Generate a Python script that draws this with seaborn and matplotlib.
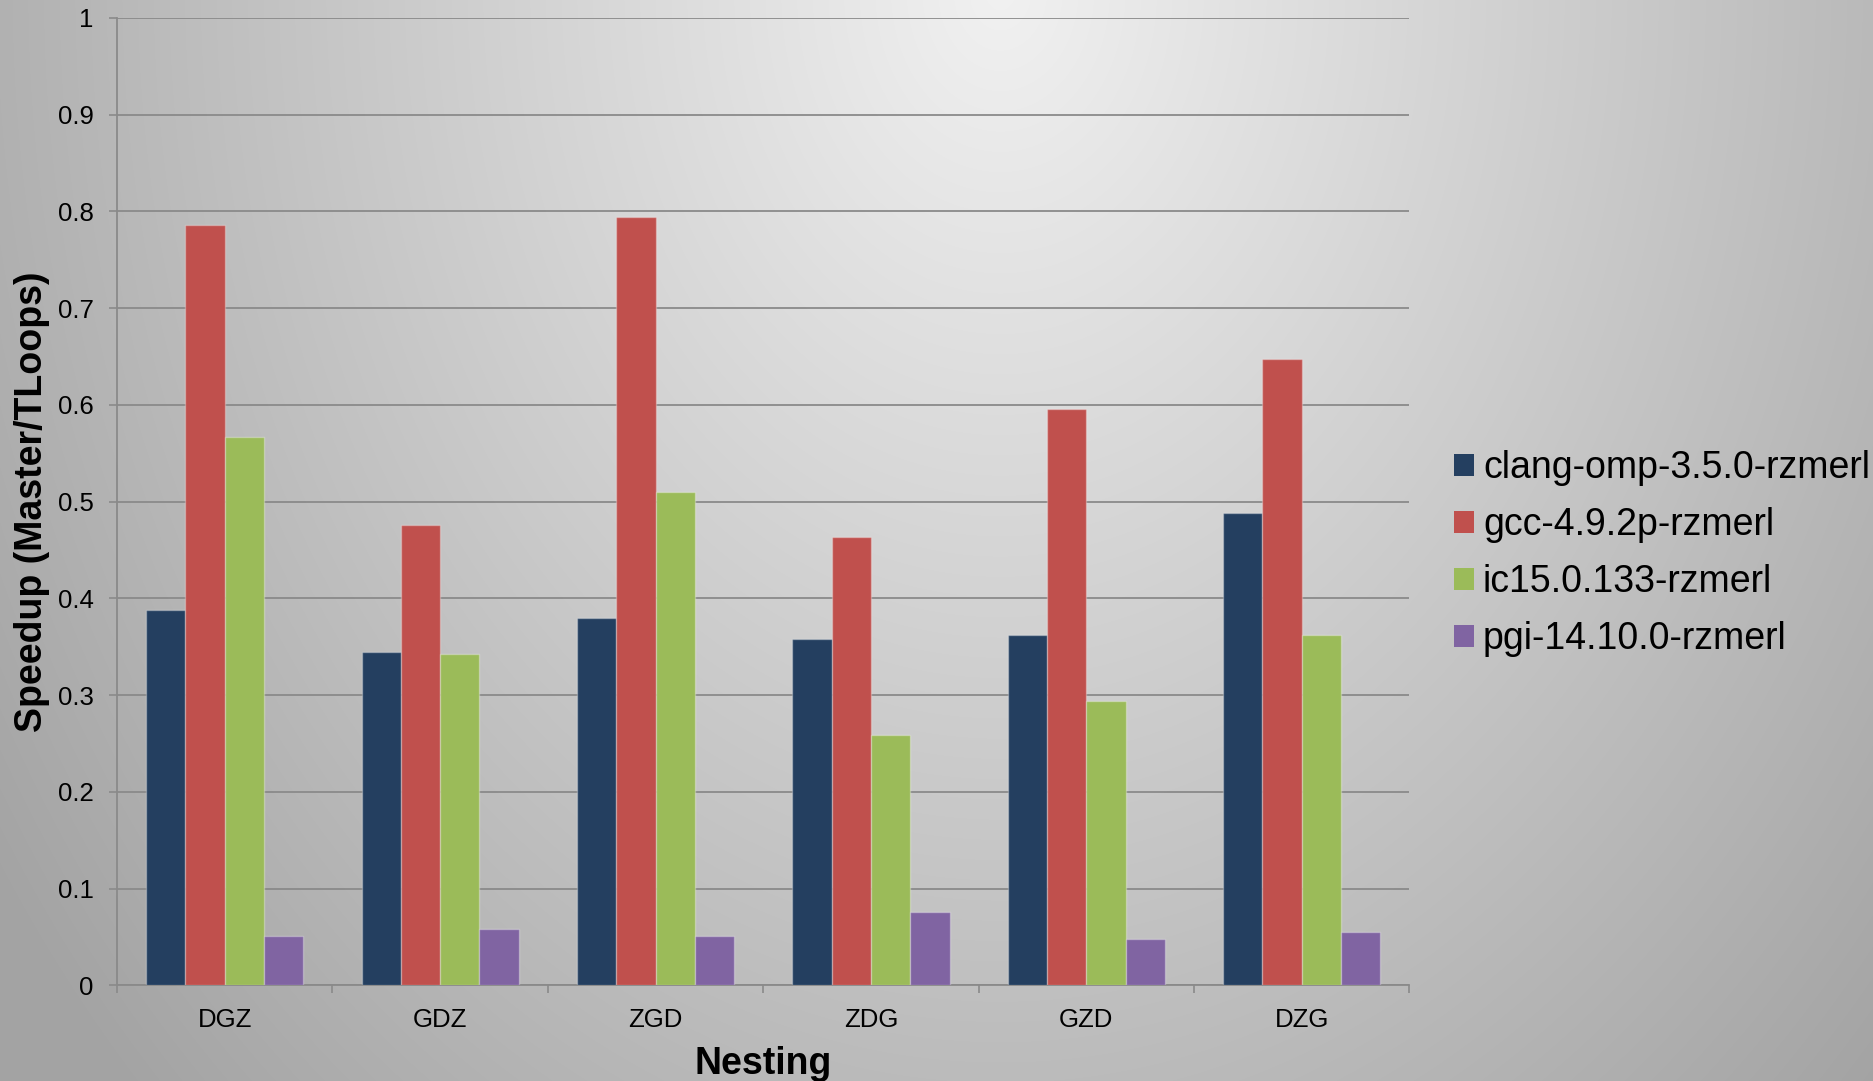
import numpy as np
import pandas as pd
import matplotlib
matplotlib.use("Agg")
import matplotlib.pyplot as plt
import seaborn as sns

# ---- data ----
categories = ["DGZ", "GDZ", "ZGD", "ZDG", "GZD", "DZG"]
series_names = ["clang-omp-3.5.0-rzmerl", "gcc-4.9.2p-rzmerl",
                "ic15.0.133-rzmerl", "pgi-14.10.0-rzmerl"]
clang_vals = [0.388, 0.345, 0.380, 0.358, 0.362, 0.488]
gcc_vals = [0.786, 0.476, 0.794, 0.464, 0.596, 0.648]
ic_vals = [0.567, 0.343, 0.510, 0.259, 0.294, 0.362]
pgi_vals = [0.051, 0.058, 0.051, 0.076, 0.048, 0.055]
ytick_values = [0, 0.1, 0.2, 0.3, 0.4, 0.5, 0.6, 0.7, 0.8, 0.9, 1]
ytick_labels = ["0", "0.1", "0.2", "0.3", "0.4", "0.5", "0.6", "0.7", "0.8", "0.9", "1"]
colors = ["#243F60", "#C0504D", "#9BBB59", "#8064A2"]

rows = []
for name, vals in zip(series_names, [clang_vals, gcc_vals, ic_vals, pgi_vals]):
    for c, v in zip(categories, vals):
        rows.append({"Nesting": c, "Compiler": name, "Speedup": v})
df = pd.DataFrame(rows)

sns.set_theme(style="white")
plt.rcParams["font.family"] = ["Liberation Sans", "DejaVu Sans"]
plt.rcParams["text.color"] = "black"
plt.rcParams["axes.labelcolor"] = "black"

W, H = 1873, 1081
fig = plt.figure(figsize=(W / 100, H / 100), dpi=100)

# background radial gradient
bg = fig.add_axes([0, 0, 1, 1])
yy, xx = np.mgrid[0:H, 0:W]
d = np.sqrt(((xx - 1000) / 1000.0) ** 2 + ((yy + 10) / 1290.0) ** 2)
bright = np.clip(0.945 - 0.25 * d, 0.64, 1.0)
bg.imshow(np.dstack([bright] * 3), aspect="auto", extent=[0, 1, 0, 1],
          origin="upper", interpolation="bilinear")
bg.set_axis_off()
bg.set_zorder(0)

ax = fig.add_axes([0.0625, 0.0884, 0.69, 0.8950])
ax.set_zorder(1)
ax.set_facecolor("none")

sns.barplot(data=df, x="Nesting", y="Speedup", hue="Compiler",
            order=categories, hue_order=series_names, palette=colors,
            saturation=1, width=0.73, gap=0, dodge=True, ax=ax,
            edgecolor=(1, 1, 1, 0.3), linewidth=1, zorder=3)

ax.set_ylim(0, 1)
ax.set_xlim(-0.5, len(categories) - 0.5)
ax.set_yticks(ytick_values)
ax.set_yticklabels(ytick_labels)
ax.yaxis.grid(True, color="#8a8a8a", linewidth=1.3, zorder=0)
ax.xaxis.grid(False)
ax.set_axisbelow(True)

for s in ["top", "right"]:
    ax.spines[s].set_visible(False)
for s in ["left", "bottom"]:
    ax.spines[s].set_color("#8a8a8a")
    ax.spines[s].set_linewidth(1.3)

ax.tick_params(axis="y", which="major", direction="out", length=6, width=1.2,
               color="#8a8a8a", pad=11, labelsize=18.5, labelcolor="black", left=True)
ax.tick_params(axis="x", which="major", length=0, pad=16, labelsize=18.5,
               labelcolor="black", bottom=True)
ax.set_xticks(np.arange(-0.5, len(categories), 1.0), minor=True)
ax.tick_params(axis="x", which="minor", direction="out", length=6, width=1.2,
               color="#8a8a8a", bottom=True)

ax.set_xlabel("Nesting", fontsize=27, fontweight="bold", color="black")
ax.set_ylabel("Speedup (Master/TLoops)", fontsize=27, fontweight="bold", color="black")
ax.xaxis.set_label_coords(0.5, -0.063)
ax.yaxis.set_label_coords(-0.052, 0.5)

leg = ax.legend(loc="center left", bbox_to_anchor=(0.7763, 0.488),
                bbox_transform=fig.transFigure, frameon=False, fontsize=27,
                handlelength=0.52, handleheight=0.52, handletextpad=0.25,
                labelspacing=0.56, borderpad=0, borderaxespad=0)
for h in leg.legend_handles:
    h.set_edgecolor("none")
for t in leg.get_texts():
    t.set_color("black")

fig.savefig("out.png", dpi=100)
